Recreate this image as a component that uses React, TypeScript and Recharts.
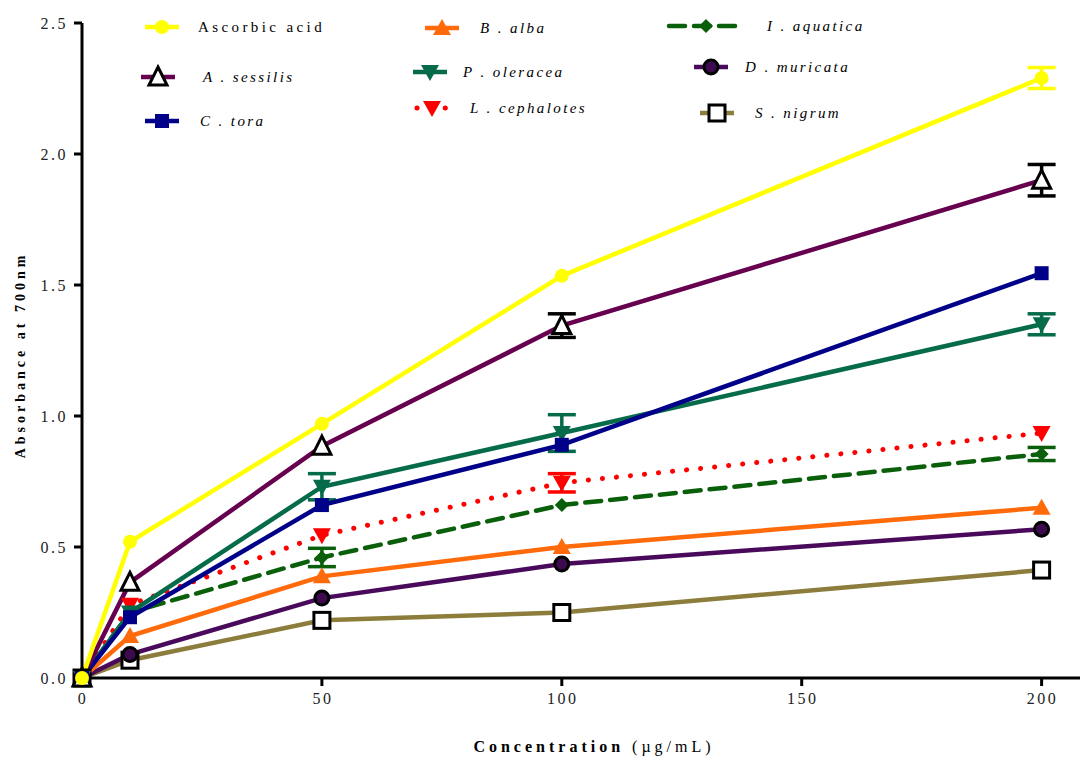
import { ErrorBar, Line, LineChart, XAxis, YAxis } from "recharts";

const concentrations = [0, 10, 50, 100, 200];

const ascorbicAcid = [0, 0.52, 0.97, 1.535, 2.29];
const ascorbicAcidErr = [null, null, null, null, 0.04];
const aSessilis = [0, 0.365, 0.885, 1.345, 1.9];
const aSessilisErr = [null, null, null, 0.045, 0.06];
const cTora = [0, 0.232, 0.66, 0.89, 1.545];
const pOleracea = [0, 0.25, 0.73, 0.935, 1.35];
const pOleraceaErr = [null, null, 0.05, 0.07, 0.04];
const lCephalotes = [0, 0.28, 0.545, 0.745, 0.935];
const lCephalotesErr = [null, null, null, 0.035, null];
const iAquatica = [0, 0.25, 0.46, 0.66, 0.855];
const iAquaticaErr = [null, null, 0.035, null, 0.025];
const bAlba = [0, 0.16, 0.388, 0.5, 0.65];
const dMuricata = [0, 0.09, 0.305, 0.435, 0.568];
const sNigrum = [0, 0.068, 0.22, 0.25, 0.412];

const xTicks = [0, 50, 100, 150, 200];
const yTicks = [0, 0.5, 1, 1.5, 2, 2.5];

type MarkerType =
  | "circle"
  | "circleOutlined"
  | "triangle"
  | "triangleOpen"
  | "triangleDown"
  | "square"
  | "squareOpen"
  | "diamond";

interface Series {
  key: string;
  name: string;
  italic: boolean;
  values: number[];
  errors?: (number | null)[];
  color: string;
  markerColor: string;
  marker: MarkerType;
  dash?: string;
  width: number;
  cap?: "round" | "butt";
}

// drawn bottom to top
const series: Series[] = [
  { key: "sNigrum", name: "S. nigrum", italic: true, values: sNigrum, color: "#8c7d3c", markerColor: "#000", marker: "squareOpen", width: 4.5 },
  { key: "dMuricata", name: "D. muricata", italic: true, values: dMuricata, color: "#4a0a5c", markerColor: "#3d0a4f", marker: "circleOutlined", width: 4.5 },
  { key: "bAlba", name: "B. alba", italic: true, values: bAlba, color: "#ff6a0a", markerColor: "#ff6a0a", marker: "triangle", width: 4.5 },
  { key: "iAquatica", name: "I. aquatica", italic: true, values: iAquatica, errors: iAquaticaErr, color: "#0a600a", markerColor: "#0a600a", marker: "diamond", dash: "16 9", width: 4.5, cap: "round" },
  { key: "lCephalotes", name: "L. cephalotes", italic: true, values: lCephalotes, errors: lCephalotesErr, color: "#ff0000", markerColor: "#ff0000", marker: "triangleDown", dash: "0.1 14", width: 5, cap: "round" },
  { key: "pOleracea", name: "P. oleracea", italic: true, values: pOleracea, errors: pOleraceaErr, color: "#056b4a", markerColor: "#056b4a", marker: "triangleDown", width: 4.5 },
  { key: "cTora", name: "C. tora", italic: true, values: cTora, color: "#000088", markerColor: "#000088", marker: "square", width: 4.5 },
  { key: "aSessilis", name: "A. sessilis", italic: true, values: aSessilis, errors: aSessilisErr, color: "#66004f", markerColor: "#000", marker: "triangleOpen", width: 4.5 },
  { key: "ascorbicAcid", name: "Ascorbic acid", italic: false, values: ascorbicAcid, errors: ascorbicAcidErr, color: "#ffff00", markerColor: "#ffff00", marker: "circle", width: 4.5 },
];

const data = concentrations.map((c, i) => {
  const row: Record<string, number | null> = { c };
  series.forEach((s) => {
    row[s.key] = s.values[i];
    row[s.key + "Err"] = s.errors ? s.errors[i] : null;
  });
  return row;
});

const FONT = "'Liberation Serif', 'DejaVu Serif', serif";

function Marker({ type, cx, cy, color }: { type: MarkerType; cx: number; cy: number; color: string }) {
  switch (type) {
    case "circle":
      return <circle cx={cx} cy={cy} r={7} fill={color} />;
    case "circleOutlined":
      return <circle cx={cx} cy={cy} r={7} fill={color} stroke="#000" strokeWidth={3} />;
    case "triangle":
      return <polygon points={`${cx},${cy - 9} ${cx + 9},${cy + 7} ${cx - 9},${cy + 7}`} fill={color} />;
    case "triangleOpen":
      return (
        <polygon
          points={`${cx},${cy - 10} ${cx + 9},${cy + 8} ${cx - 9},${cy + 8}`}
          fill="#fff"
          stroke="#000"
          strokeWidth={3}
          strokeLinejoin="miter"
        />
      );
    case "triangleDown":
      return <polygon points={`${cx},${cy + 9} ${cx + 9},${cy - 7} ${cx - 9},${cy - 7}`} fill={color} />;
    case "square":
      return <rect x={cx - 7} y={cy - 7} width={14} height={14} fill={color} />;
    case "squareOpen":
      return <rect x={cx - 8} y={cy - 8} width={16} height={16} fill="#fff" stroke="#000" strokeWidth={3} />;
    case "diamond":
      return <polygon points={`${cx},${cy - 7} ${cx + 7},${cy} ${cx},${cy + 7} ${cx - 7},${cy}`} fill={color} />;
  }
  return null;
}

const legendPlaces: Record<string, { x: number; y: number; tx: number; half: number }> = {
  ascorbicAcid: { x: 162, y: 27, tx: 198, half: 17 },
  aSessilis: { x: 158, y: 77, tx: 203, half: 17 },
  cTora: { x: 162, y: 121, tx: 200, half: 17 },
  bAlba: { x: 442, y: 28, tx: 480, half: 17 },
  pOleracea: { x: 430, y: 72, tx: 463, half: 17 },
  lCephalotes: { x: 432, y: 108, tx: 470, half: 15 },
  iAquatica: { x: 706, y: 26, tx: 767, half: 37 },
  dMuricata: { x: 711, y: 67, tx: 745, half: 17 },
  sNigrum: { x: 717, y: 113, tx: 755, half: 17 },
};

function LegendOverlay() {
  return (
    <svg width={1081} height={140} style={{ position: "absolute", left: 0, top: 0, pointerEvents: "none" }}>
      {series.map((s) => {
        const p = legendPlaces[s.key];
        return (
          <g key={s.key}>
            <line
              x1={p.x - p.half}
              x2={p.x + p.half}
              y1={p.y}
              y2={p.y}
              stroke={s.color}
              strokeWidth={s.width}
              strokeDasharray={s.dash}
              strokeLinecap={s.cap ?? "butt"}
            />
            <Marker type={s.marker} cx={p.x} cy={p.y} color={s.markerColor} />
            <text
              x={p.tx}
              y={p.y + 5}
              fontFamily={FONT}
              fontSize={15}
              fontStyle={s.italic ? "italic" : "normal"}
              letterSpacing={s.italic ? 2.4 : 3.4}
              fill="#000"
            >
              {s.italic ? s.name.replace(". ", " . ") : s.name}
            </text>
          </g>
        );
      })}
    </svg>
  );
}

const YTick = (props: any) => (
  <text x={props.x - 4} y={props.y + 6} textAnchor="end" fontFamily={FONT} fontSize={16} letterSpacing={2.5} fill="#222">
    {Number(props.payload.value).toFixed(1)}
  </text>
);

const XTick = (props: any) => (
  <text x={props.x + 1} y={props.y + 16} textAnchor="middle" fontFamily={FONT} fontSize={16} letterSpacing={2.5} fill="#222">
    {props.payload.value}
  </text>
);

export default function App() {
  return (
    <div style={{ position: "absolute", left: 0, top: 0, width: 1081, height: 758, background: "#fff" }}>
      <LineChart width={1081} height={758} data={data} margin={{ top: 23, right: 1, bottom: 20, left: 0 }}>
        <XAxis
          type="number"
          dataKey="c"
          domain={[0, 208]}
          ticks={xTicks}
          tick={<XTick />}
          tickSize={8}
          axisLine={{ stroke: "#000", strokeWidth: 3 }}
          tickLine={{ stroke: "#000", strokeWidth: 3 }}
          height={60}
        />
        <YAxis
          type="number"
          domain={[0, 2.5]}
          ticks={yTicks}
          tick={<YTick />}
          tickSize={8}
          axisLine={{ stroke: "#000", strokeWidth: 3 }}
          tickLine={{ stroke: "#000", strokeWidth: 3 }}
          width={82}
        />
        {series.map((s) => (
          <Line
            key={s.key}
            dataKey={s.key}
            name={s.name}
            type="linear"
            stroke={s.color}
            strokeWidth={s.width}
            strokeDasharray={s.dash}
            strokeLinecap={s.cap ?? "butt"}
            isAnimationActive={false}
            activeDot={false}
            dot={(p: any) => (
              <Marker key={`${s.key}-${p.index}`} type={s.marker} cx={p.cx} cy={p.cy} color={s.markerColor} />
            )}
          >
            {s.errors && (
              <ErrorBar
                dataKey={s.key + "Err"}
                width={14}
                strokeWidth={3.5}
                stroke={s.markerColor}
                direction="y"
                isAnimationActive={false}
              />
            )}
          </Line>
        ))}
        <text
          x={20}
          y={355}
          transform="rotate(-90 20 355)"
          textAnchor="middle"
          fontFamily={FONT}
          fontSize={14}
          fontWeight="bold"
          letterSpacing={4}
          dy={5}
        >
          Absorbance at 700nm
        </text>
        <text x={594} y={752} textAnchor="middle" fontFamily={FONT} fontSize={16} letterSpacing={4}>
          <tspan fontWeight="bold">Concentration</tspan> (µg/mL)
        </text>
      </LineChart>
      <LegendOverlay />
    </div>
  );
}
